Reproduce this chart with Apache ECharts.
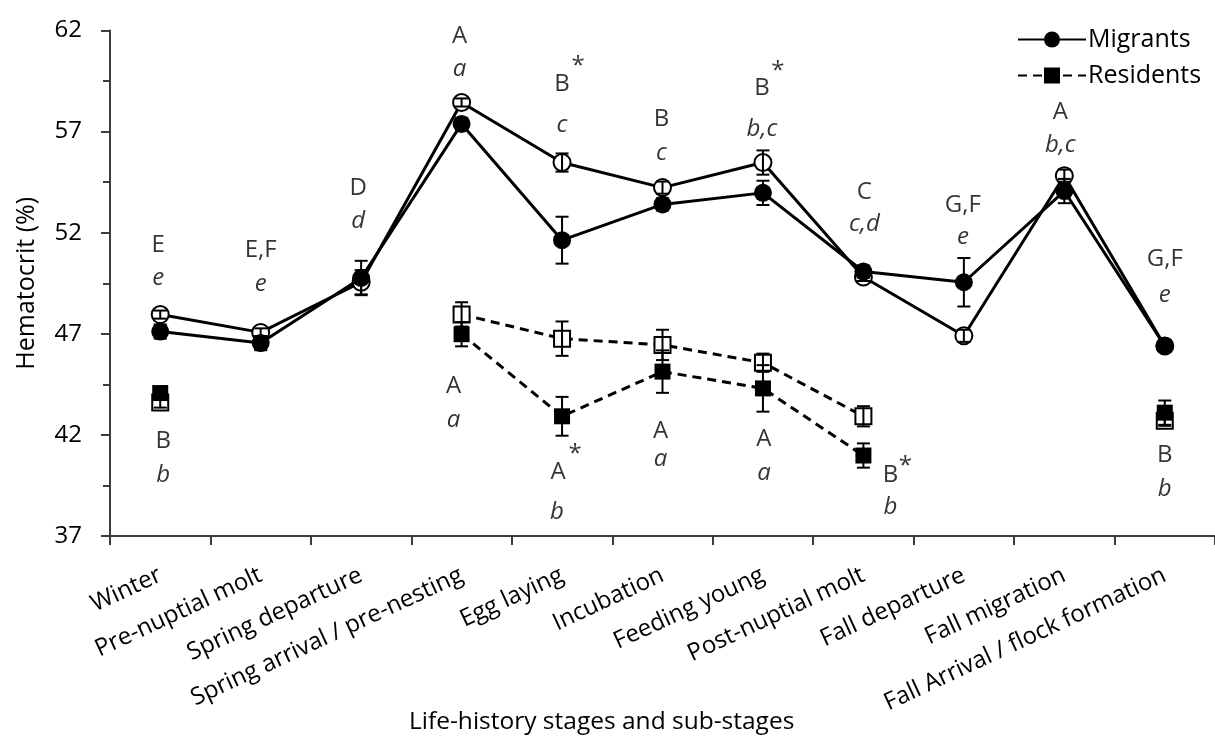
<!DOCTYPE html>
<html><head><meta charset="utf-8">
<script src="https://cdn.jsdelivr.net/npm/echarts@6/dist/echarts.min.js"></script>
<style>html,body{margin:0;padding:0;background:#fff}#c{width:1215px;height:737px}</style>
</head><body><div id="c"></div>
<script>
// ---------- data ----------
const stages = ['Winter', 'Pre-nuptial molt', 'Spring departure', 'Spring arrival / pre-nesting',
  'Egg laying', 'Incubation', 'Feeding young', 'Post-nuptial molt', 'Fall departure',
  'Fall migration', 'Fall Arrival / flock formation'];
const yTicks = [37, 42, 47, 52, 57, 62];

const migrantsFilled    = [47.11, 46.54, 49.76, 57.38, 51.63, 53.40, 53.97, 50.08, 49.55, 54.06, 46.40];
const migrantsFilledErr = [0.35, 0.35, 0.85, 0.30, 1.16, 0.30, 0.60, 0.30, 1.20, 0.60, 0.30];
const migrantsOpen      = [47.95, 47.07, 49.55, 58.44, 55.47, 54.23, 55.47, 49.81, 46.90, 54.82, 46.40];
const migrantsOpenErr   = [0.20, 0.20, 0.60, 0.20, 0.45, 0.30, 0.60, 0.20, 0.30, 0.30, 0.20];
const residentsFilled    = [44.07, null, null, 46.98, 42.92, 45.13, 44.30, 40.98, null, null, 43.10];
const residentsFilledErr = [0.30, null, null, 0.60, 0.96, 1.05, 1.15, 0.60, null, null, 0.60];
const residentsOpen      = [43.60, null, null, 47.96, 46.76, 46.45, 45.57, 42.92, null, null, 42.70];
const residentsOpenErr   = [0.25, null, null, 0.60, 0.85, 0.75, 0.45, 0.50, null, null, 0.25];

// significance letters: stage index, value (y position), text, italic
const noteStage  = [0, 0, 0, 0, 1, 1, 2, 2, 3, 3, 3, 3, 4, 4, 4, 4, 4, 4, 5, 5, 5, 5, 6, 6, 6, 6, 6, 7, 7, 7, 7, 7, 8, 8, 9, 9, 10, 10, 10, 10];
const noteValue  = [51.37, 49.73, 41.68, 40.00, 51.14, 49.46, 54.18, 52.55, 61.74, 60.10, 44.42, 42.74,
  59.36, 57.32, 60.24, 40.18, 38.20, 41.07, 57.60, 55.95, 42.20, 40.80, 59.15, 57.10, 59.97, 41.77, 40.09,
  54.02, 52.43, 40.00, 38.41, 40.45, 53.35, 51.76, 57.94, 56.35, 50.70, 48.93, 40.98, 39.30];
const noteText   = ['E', 'e', 'B', 'b', 'E,F', 'e', 'D', 'd', 'A', 'a', 'A', 'a',
  'B', 'c', '*', 'A', 'b', '*', 'B', 'c', 'A', 'a', 'B', 'b,c', '*', 'A', 'a',
  'C', 'c,d', 'B', 'b', '*', 'G,F', 'e', 'A', 'b,c', 'G,F', 'e', 'B', 'b'];
const noteItalic = [0, 1, 0, 1, 0, 1, 0, 1, 0, 1, 0, 1,
  0, 1, 0, 0, 1, 0, 0, 1, 0, 1, 0, 1, 0, 0, 1,
  0, 1, 0, 1, 0, 0, 1, 0, 1, 0, 1, 0, 1];
// horizontal label shifts in px (style only)
const noteShift  = [-2, -2, 3, 3, 0, 0, -3, -3, -2, -2, -8, -8,
  0, 0, 16, -4, -5, 13, -1, -1, -2, -2, -1, -1, 15, 1, 1,
  1, 1, 27, 27, 42, -1, -1, -4, -4, 0, 0, 0, 0];

// ---------- chart ----------
const FONT = 'Open Sans';
const chart = echarts.init(document.getElementById('c'), null, {renderer: 'canvas'});

function errData(vals, errs) {
  const out = [];
  vals.forEach((v, i) => { if (v != null && errs[i] != null) out.push([i, v - errs[i], v + errs[i]]); });
  return out;
}
function errSeries(vals, errs, z) {
  return {
    type: 'custom', z: z, silent: true,
    data: errData(vals, errs),
    encode: {x: 0, y: [1, 2]},
    renderItem: function (params, api) {
      const lo = api.coord([api.value(0), api.value(1)]);
      const hi = api.coord([api.value(0), api.value(2)]);
      const w = 6.5;
      const st = {stroke: '#000', lineWidth: 2};
      return {type: 'group', children: [
        {type: 'line', shape: {x1: lo[0], y1: lo[1], x2: hi[0], y2: hi[1]}, style: st},
        {type: 'line', shape: {x1: lo[0] - w, y1: lo[1], x2: lo[0] + w, y2: lo[1]}, style: st},
        {type: 'line', shape: {x1: hi[0] - w, y1: hi[1], x2: hi[0] + w, y2: hi[1]}, style: st}
      ]};
    }
  };
}

const notes = noteStage.map((s, k) => ({
  value: [s, noteValue[k]],
  label: {
    formatter: noteText[k],
    fontStyle: noteItalic[k] ? 'italic' : 'normal',
    offset: [noteShift[k], 0]
  }
}));

const option = {
  backgroundColor: '#fff',
  animation: false,
  textStyle: {fontFamily: FONT, color: '#000'},
  title: {
    text: 'Life-history stages and sub-stages',
    left: 404, top: 705,
    textStyle: {fontFamily: FONT, fontSize: 24.5, fontWeight: 'normal', color: '#000'}
  },
  legend: {
    data: ['Migrants', 'Residents'],
    orient: 'vertical', left: 1012, top: 22,
    itemWidth: 68, itemHeight: 20, itemGap: 11,
    textStyle: {fontFamily: FONT, fontSize: 25, color: '#000', padding: [0, 0, 0, -3]}
  },
  grid: {left: 110, right: -4, top: 30.5, bottom: 201},
  xAxis: {
    type: 'category', data: stages, boundaryGap: true,
    axisLine: {lineStyle: {color: '#3c3c3c', width: 2}},
    axisTick: {show: true, interval: 0, length: 9, lineStyle: {color: '#3c3c3c', width: 2}},
    axisLabel: {interval: 0, rotate: 25, margin: 38, fontFamily: FONT, fontSize: 24, color: '#000'},
    splitLine: {show: false}
  },
  yAxis: {
    type: 'value', min: 37, max: 62, interval: 5,
    name: 'Hematocrit (%)', nameLocation: 'middle', nameGap: 71,
    nameTextStyle: {fontFamily: FONT, fontSize: 25, color: '#000'},
    axisLine: {show: true, lineStyle: {color: '#3c3c3c', width: 2}},
    axisTick: {show: true, length: 9, lineStyle: {color: '#3c3c3c', width: 2}},
    minorTick: {show: true, splitNumber: 2, length: 7, lineStyle: {color: '#3c3c3c', width: 2}},
    axisLabel: {margin: 28, fontFamily: FONT, fontSize: 24, color: '#000',
      formatter: v => (yTicks.indexOf(v) >= 0 ? String(v) : '')},
    splitLine: {show: false}
  },
  series: [
    {
      name: 'Migrants (open)', type: 'line', data: migrantsOpen, z: 3,
      symbol: 'circle', symbolSize: 17, showSymbol: true,
      lineStyle: {color: '#000', width: 3},
      itemStyle: {color: '#fff', borderColor: '#000', borderWidth: 2}
    },
    {
      name: 'Residents (open)', type: 'line', data: residentsOpen, z: 3, connectNulls: false,
      symbol: 'rect', symbolSize: 16, showSymbol: true,
      lineStyle: {color: '#000', width: 3, type: [9, 6]},
      itemStyle: {color: '#fff', borderColor: '#000', borderWidth: 2}
    },
    errSeries(migrantsOpen, migrantsOpenErr, 4),
    errSeries(residentsOpen, residentsOpenErr, 4),
    {
      name: 'Migrants', type: 'line', data: migrantsFilled, z: 5,
      symbol: 'circle', symbolSize: 18, showSymbol: true,
      lineStyle: {color: '#000', width: 3},
      itemStyle: {color: '#000', borderColor: '#000', borderWidth: 0}
    },
    {
      name: 'Residents', type: 'line', data: residentsFilled, z: 5, connectNulls: false,
      symbol: 'rect', symbolSize: 16, showSymbol: true,
      lineStyle: {color: '#000', width: 3, type: [9, 6]},
      itemStyle: {color: '#000', borderColor: '#000', borderWidth: 0}
    },
    errSeries(migrantsFilled, migrantsFilledErr, 6),
    errSeries(residentsFilled, residentsFilledErr, 6),
    {
      name: 'notes', type: 'scatter', data: notes, z: 7, silent: true,
      symbolSize: 1, itemStyle: {color: 'rgba(0,0,0,0)'},
      label: {show: true, position: 'inside', fontFamily: FONT, fontSize: 24, color: '#000'}
    }
  ]
};
chart.setOption(option);
</script>
</body></html>
